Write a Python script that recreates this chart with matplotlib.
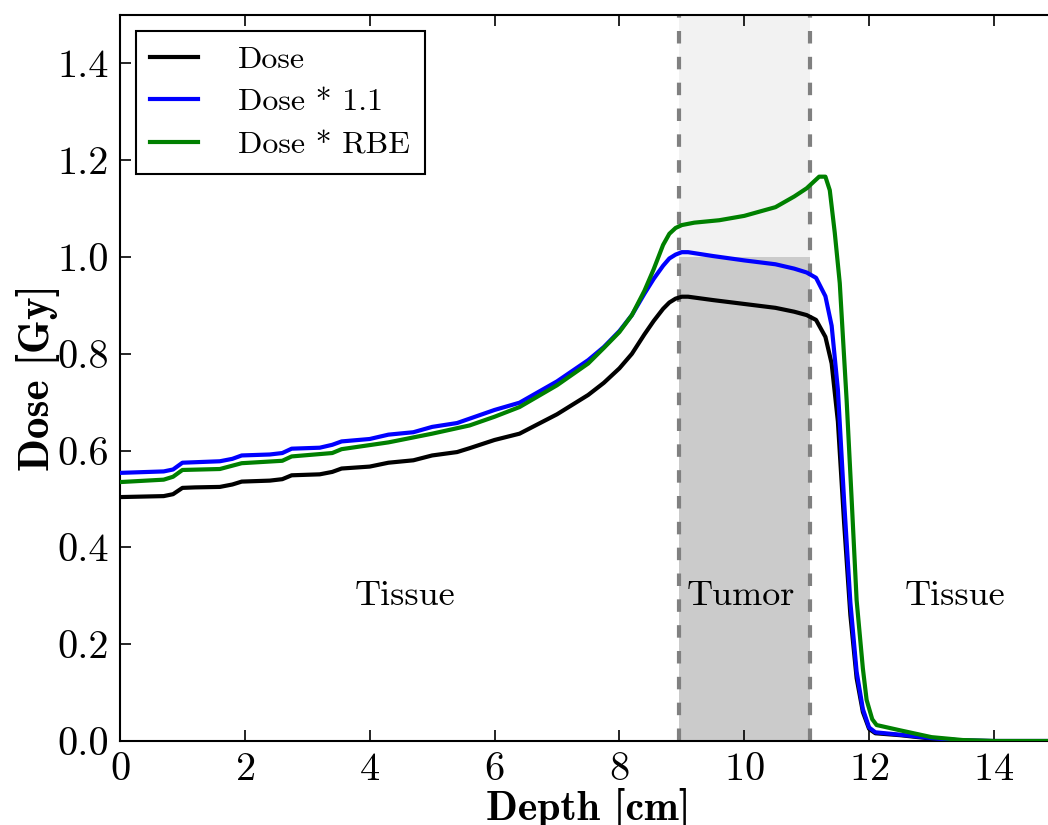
import matplotlib
matplotlib.use("Agg")
import matplotlib.pyplot as plt

plt.rcParams['font.family'] = ['cmr10', 'DejaVu Serif']
plt.rcParams['mathtext.fontset'] = 'cm'
plt.rcParams['axes.formatter.use_mathtext'] = True

depth = [0.0, 0.7, 0.85, 1.0, 1.2, 1.6, 1.8, 1.95, 2.4, 2.6, 2.75, 3.2, 3.4, 3.55, 4.0,
         4.3, 4.7, 5.0, 5.4, 5.6, 6.0, 6.4, 7.0, 7.5, 7.75, 8.0, 8.2, 8.4, 8.55, 8.7, 8.8,
         8.9, 9.0, 9.1, 9.5, 10.0, 10.5, 10.8, 11.0, 11.15, 11.3, 11.4, 11.5, 11.6, 11.7,
         11.8, 11.9, 12.0, 12.1, 12.5, 13.0, 13.5, 14.0, 15.0]
dose = [0.504, 0.506, 0.510, 0.523, 0.524, 0.525, 0.530, 0.536, 0.538, 0.541, 0.549, 0.551,
        0.556, 0.563, 0.567, 0.575, 0.580, 0.590, 0.597, 0.605, 0.622, 0.635, 0.675, 0.715,
        0.740, 0.770, 0.800, 0.840, 0.868, 0.893, 0.906, 0.914, 0.918, 0.918, 0.911, 0.903,
        0.895, 0.887, 0.880, 0.870, 0.835, 0.780, 0.660, 0.450, 0.260, 0.130, 0.060, 0.025,
        0.016, 0.012, 0.005, 0.001, 0.0, 0.0]
dose_11 = [0.554, 0.557, 0.561, 0.575, 0.576, 0.578, 0.583, 0.590, 0.592, 0.595, 0.604, 0.606,
           0.612, 0.619, 0.624, 0.633, 0.638, 0.649, 0.657, 0.666, 0.684, 0.699, 0.743, 0.787,
           0.814, 0.847, 0.880, 0.924, 0.955, 0.982, 0.997, 1.005, 1.010, 1.010, 1.002, 0.993,
           0.985, 0.976, 0.968, 0.957, 0.919, 0.858, 0.726, 0.495, 0.286, 0.143, 0.066, 0.028,
           0.018, 0.013, 0.006, 0.001, 0.0, 0.0]

depth_rbe = [0.0, 0.7, 0.85, 1.0, 1.6, 1.95, 2.6, 2.75, 3.4, 3.55, 4.3, 5.0, 5.6, 6.0, 6.4,
             7.0, 7.5, 7.75, 8.0, 8.2, 8.4, 8.55, 8.7, 8.8, 8.9, 9.0, 9.2, 9.6, 10.0, 10.5,
             10.8, 11.0, 11.2, 11.3, 11.37, 11.45, 11.53, 11.64, 11.72, 11.8, 11.9, 11.96,
             12.05, 12.12, 12.5, 13.0, 13.5, 14.0, 15.0]
dose_rbe = [0.535, 0.540, 0.546, 0.560, 0.562, 0.574, 0.579, 0.588, 0.595, 0.603, 0.617, 0.635,
            0.652, 0.670, 0.690, 0.735, 0.780, 0.812, 0.845, 0.880, 0.930, 0.975, 1.025, 1.048,
            1.060, 1.066, 1.071, 1.076, 1.085, 1.103, 1.125, 1.142, 1.166, 1.166, 1.138, 1.050,
            0.946, 0.704, 0.500, 0.291, 0.150, 0.085, 0.045, 0.033, 0.022, 0.008, 0.002, 0.0,
            0.0]

tumor_start, tumor_end = 8.95, 11.05
prescribed = 1.0
region_labels = ["Tissue", "Tumor", "Tissue"]
region_x = [4.57, 9.95, 13.37]
region_y = 0.3

fig = plt.figure(figsize=(10.48, 8.25), dpi=100)
ax = fig.add_axes([0.1145, 0.1018, 0.8935, 0.88])

ax.fill_between([tumor_start, tumor_end], 0, prescribed, color='#cbcbcb', lw=0, zorder=1)
ax.fill_between([tumor_start, tumor_end], prescribed, 1.5, color='#f2f2f2', lw=0, zorder=1)
for xv in (tumor_start, tumor_end):
    ax.axvline(xv, color='#808080', lw=3, dashes=(3.0, 3.2), zorder=2)

ax.plot(depth, dose, color='black', lw=3, label='Dose', zorder=3)
ax.plot(depth, dose_11, color='blue', lw=3, label='Dose * 1.1', zorder=3)
ax.plot(depth_rbe, dose_rbe, color='green', lw=3, label='Dose * RBE', zorder=3)

for lab, xv in zip(region_labels, region_x):
    ax.text(xv, region_y, lab, ha='center', va='center', fontsize=26)

ax.set_xlim(0, 15)
ax.set_ylim(0, 1.5)
ax.set_xticks(range(0, 15, 2))
ax.set_yticks([0.0, 0.2, 0.4, 0.6, 0.8, 1.0, 1.2, 1.4])
ax.set_yticklabels(['0.0', '0.2', '0.4', '0.6', '0.8', '1.0', '1.2', '1.4'])
ax.tick_params(direction='in', length=8, width=1.2, labelsize=29, top=True, right=False, pad=8)
for sp in ax.spines.values():
    sp.set_linewidth(1.5)

ax.set_xlabel('Depth [cm]', fontsize=30, family='cmb10', labelpad=0)
ax.set_ylabel('Dose [Gy]', fontsize=31, family='cmb10', labelpad=-2)

leg = ax.legend(loc='upper left', fontsize=23, fancybox=False, framealpha=1,
                edgecolor='black', handlelength=1.5, handletextpad=1.25, labelspacing=0.45,
                borderpad=0.45)
leg.get_frame().set_linewidth(1.5)

fig.savefig('out.png', dpi=100)
